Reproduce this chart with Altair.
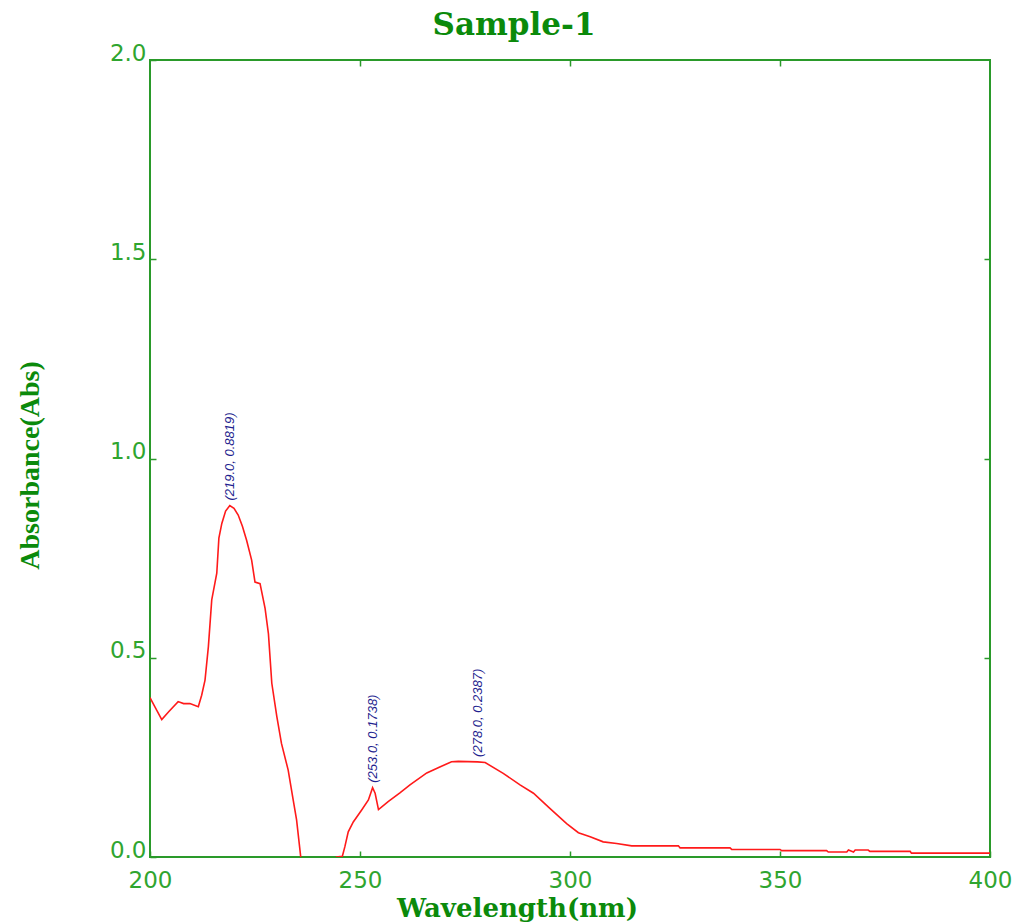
import altair as alt
import pandas as pd

# ---- data ----
wavelength = [200, 200.5, 202.8, 204.5, 206.7, 208, 209.5, 211.5, 212.3, 213.1, 213.9,
              214.7, 215.9, 216.4, 217.1, 218, 219, 220, 221, 222, 223, 224.2, 225,
              226.2, 227.4, 228.2, 229.0, 230.2, 231.3, 232.9, 234.1, 234.9, 235.7,
              236.2, 240, 244, 244.4, 245.8, 246.4, 247.2, 248.4, 250.4, 252.0, 253.0,
              253.6, 254.4, 256.7, 259.5, 261.9, 265.9, 269.0, 271.8, 273.4, 278.0,
              279.8, 284.1, 288.1, 291.3, 295.2, 299.2, 302.0, 304.8, 307.9, 311.1,
              314.7, 325.8, 326.2, 338.1, 338.5, 350, 350.4, 361.1, 361.5, 365.9,
              366.3, 367.5, 367.9, 371.0, 371.4, 381, 381.3, 400]
absorbance = [0.40, 0.39, 0.345, 0.365, 0.39, 0.385, 0.385, 0.377, 0.406, 0.444, 0.528,
              0.645, 0.712, 0.80, 0.837, 0.868, 0.8819, 0.875, 0.858, 0.83, 0.795, 0.745, 0.69,
              0.686, 0.624, 0.56, 0.436, 0.352, 0.285, 0.218, 0.143, 0.093, 0.018,
              -0.03, -0.06, -0.01, 0.0, 0.002, 0.026, 0.063, 0.088, 0.118, 0.143, 0.1738,
              0.16, 0.119, 0.139, 0.161, 0.181, 0.211, 0.226, 0.239, 0.240, 0.2387,
              0.237, 0.21, 0.181, 0.16, 0.122, 0.084, 0.061, 0.051, 0.038, 0.034,
              0.028, 0.028, 0.023, 0.023, 0.019, 0.019, 0.016, 0.016, 0.0125, 0.0125,
              0.0175, 0.0125, 0.0175, 0.0175, 0.014, 0.014, 0.0096, 0.0096]

peak_wavelength = [219.0, 253.0, 278.0]
peak_absorbance = [0.8819, 0.1738, 0.2387]
peak_labels = ["(219.0, 0.8819)", "(253.0, 0.1738)", "(278.0, 0.2387)"]

x_ticks = [200, 250, 300, 350, 400]
x_inner_ticks = [250, 300, 350]
y_ticks = [0.0, 0.5, 1.0, 1.5, 2.0]
y_inner_ticks = [0.5, 1.0, 1.5]

spec_df = pd.DataFrame({"wavelength": wavelength, "absorbance": absorbance})
peak_df = pd.DataFrame({"wavelength": peak_wavelength, "absorbance": peak_absorbance,
                        "label": peak_labels})

AXIS_GREEN = "#2a9a2a"
LABEL_GREEN = "#2fa52f"
TITLE_GREEN = "#0b8a0b"

xscale = alt.Scale(domain=[200, 400], nice=False, zero=False)
yscale = alt.Scale(domain=[0, 2], nice=False, zero=False)

common_axis = dict(domain=False, grid=False, tickColor=AXIS_GREEN, tickWidth=1.5,
                   tickSize=6, offset=-6)

line = alt.Chart(spec_df).mark_line(color="#ff1a1a", strokeWidth=1.6, clip=True).encode(
    x=alt.X("wavelength:Q", scale=xscale,
            axis=alt.Axis(orient="bottom", values=x_ticks, format=".0f",
                          title="Wavelength(nm)", labelPadding=12,
                          labelFont="DejaVu Sans", labelFontSize=23, labelColor=LABEL_GREEN,
                          labelFlush=False, labelOverlap=False,
                          titleFont="DejaVu Serif", titleFontSize=26, titleFontWeight="bold",
                          titleColor=TITLE_GREEN, titleX=367, titleY=65,
                          titleBaseline="alphabetic", titleAlign="center",
                          **common_axis)),
    y=alt.Y("absorbance:Q", scale=yscale,
            axis=alt.Axis(orient="left", values=y_ticks, format=".1f",
                          title="Absorbance(Abs)", labelPadding=4,
                          labelFont="DejaVu Sans", labelFontSize=23, labelColor=LABEL_GREEN,
                          labelBaseline="alphabetic", labelFlush=False, labelOverlap=False,
                          titleFont="Liberation Serif", titleFontSize=28, titleFontWeight="bold",
                          titleColor=TITLE_GREEN, titleX=-118, titleY=405, titleAngle=270,
                          titleBaseline="alphabetic", titleAlign="center",
                          **common_axis)),
)

labels = alt.Chart(peak_df).mark_text(
    angle=270, align="left", baseline="middle", dx=5,
    font="Liberation Sans", fontStyle="italic", fontSize=13, color="#1f1f8f",
).encode(
    x=alt.X("wavelength:Q", scale=xscale,
            axis=alt.Axis(orient="top", values=x_inner_ticks, labels=False, title="",
                          **common_axis)),
    y=alt.Y("absorbance:Q", scale=yscale,
            axis=alt.Axis(orient="right", values=y_inner_ticks, labels=False, title="",
                          **common_axis)),
    text="label:N",
)

chart = alt.layer(line, labels).resolve_axis(x="independent", y="independent").properties(
    width=840, height=797,
    autosize=alt.AutoSizeParams(type="none"),
    padding={"left": 150, "top": 60, "right": 31, "bottom": 67},
    background="white",
    title=alt.TitleParams("Sample-1", font="DejaVu Serif", fontSize=31, fontWeight="bold",
                          color=TITLE_GREEN, anchor="middle", frame="group", dx=-56,
                          offset=6, dy=30, baseline="alphabetic"),
).configure_view(stroke=AXIS_GREEN, strokeWidth=2)

chart.save("out.html", embed_options={"renderer": "svg", "actions": False})
